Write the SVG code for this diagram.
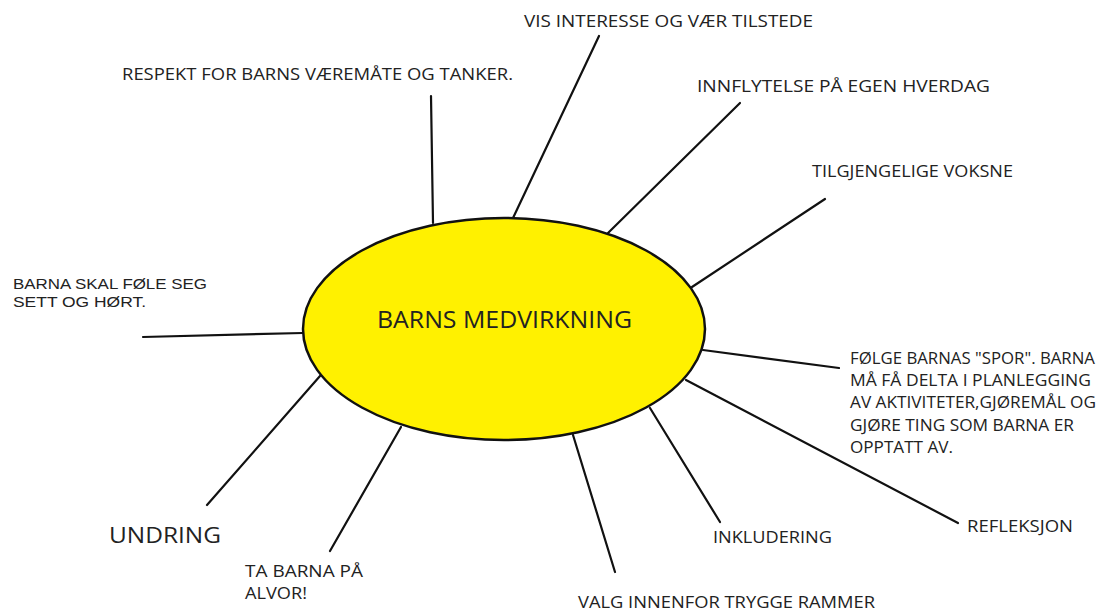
<svg xmlns="http://www.w3.org/2000/svg" width="1101" height="612" viewBox="0 0 1101 612">
<style>
.bg{fill:#ffffff}
.c line{stroke:#111;stroke-width:2.2;stroke-linecap:round}
.hub{fill:#FFF100;stroke:#111;stroke-width:2.5}
text{font-family:"Open Sans","Liberation Sans",sans-serif;fill:#222;font-size:17px}
.big{font-size:23px}
.mid{font-size:22px}
.sm{font-family:"Liberation Sans",Arial,sans-serif;font-size:15px}
</style>
<rect class="bg" width="1101" height="612"/>
<g id="connectors" class="c">
<line x1="431" y1="96" x2="433" y2="223"/>
<line x1="599" y1="36" x2="513" y2="218"/>
<line x1="740" y1="103" x2="608" y2="233"/>
<line x1="825" y1="199" x2="692" y2="287"/>
<line x1="143" y1="337" x2="303" y2="333"/>
<line x1="703" y1="350" x2="839" y2="368"/>
<line x1="686" y1="380" x2="958" y2="523"/>
<line x1="650" y1="408" x2="720" y2="522"/>
<line x1="573" y1="435" x2="615" y2="572"/>
<line x1="401" y1="427" x2="330" y2="551"/>
<line x1="320" y1="376" x2="207" y2="505"/>
</g>
<g id="hub">
<ellipse class="hub" cx="504" cy="329" rx="201" ry="111"/>
<text class="big" x="377" y="328" textLength="255" lengthAdjust="spacingAndGlyphs">BARNS MEDVIRKNING</text>
</g>
<g id="respekt"><text x="122" y="80" textLength="391" lengthAdjust="spacingAndGlyphs">RESPEKT FOR BARNS VÆREMÅTE OG TANKER.</text></g>
<g id="vis"><text x="524" y="27" textLength="289" lengthAdjust="spacingAndGlyphs">VIS INTERESSE OG VÆR TILSTEDE</text></g>
<g id="innflytelse"><text x="697" y="92" textLength="293" lengthAdjust="spacingAndGlyphs">INNFLYTELSE PÅ EGEN HVERDAG</text></g>
<g id="tilgjengelige"><text x="812" y="177" textLength="201" lengthAdjust="spacingAndGlyphs">TILGJENGELIGE VOKSNE</text></g>
<g id="barna-skal">
<text class="sm" x="13" y="289" textLength="194" lengthAdjust="spacingAndGlyphs">BARNA SKAL FØLE SEG</text>
<text class="sm" x="13" y="307" textLength="133" lengthAdjust="spacingAndGlyphs">SETT OG HØRT.</text>
</g>
<g id="folge">
<text x="850" y="364" textLength="245" lengthAdjust="spacingAndGlyphs">FØLGE BARNAS "SPOR". BARNA</text>
<text x="850" y="386" textLength="241" lengthAdjust="spacingAndGlyphs">MÅ FÅ DELTA I PLANLEGGING</text>
<text x="850" y="408" textLength="246" lengthAdjust="spacingAndGlyphs">AV AKTIVITETER,GJØREMÅL OG</text>
<text x="850" y="431" textLength="224" lengthAdjust="spacingAndGlyphs">GJØRE TING SOM BARNA ER</text>
<text x="850" y="453" textLength="103" lengthAdjust="spacingAndGlyphs">OPPTATT AV.</text>
</g>
<g id="refleksjon"><text x="967" y="532" textLength="106" lengthAdjust="spacingAndGlyphs">REFLEKSJON</text></g>
<g id="inkludering"><text x="713" y="543" textLength="119" lengthAdjust="spacingAndGlyphs">INKLUDERING</text></g>
<g id="valg"><text x="578" y="608" textLength="297" lengthAdjust="spacingAndGlyphs">VALG INNENFOR TRYGGE RAMMER</text></g>
<g id="ta-barna">
<text x="245" y="577" textLength="118" lengthAdjust="spacingAndGlyphs">TA BARNA PÅ</text>
<text x="245" y="599" textLength="62" lengthAdjust="spacingAndGlyphs">ALVOR!</text>
</g>
<g id="undring"><text class="mid" x="109" y="543" textLength="112" lengthAdjust="spacingAndGlyphs">UNDRING</text></g>
</svg>
